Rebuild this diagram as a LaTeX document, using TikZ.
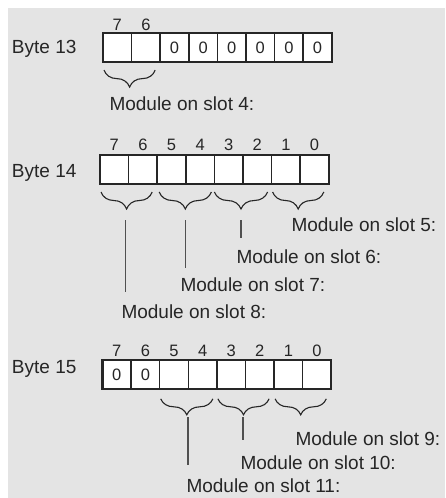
\documentclass[tikz,border=0pt]{standalone}
\usepackage{fontspec}
\setmainfont{Liberation Sans}
\usetikzlibrary{decorations.pathreplacing}

\definecolor{bg}{HTML}{E4E4E4}
\definecolor{ink}{HTML}{262626}
\definecolor{rule}{HTML}{505050}

\tikzset{
  lbl/.style={anchor=base west, inner sep=0pt, outer sep=0pt, text=ink,
    font=\fontsize{19}{22}\selectfont},
  bitnum/.style={anchor=base, inner sep=0pt, text=ink,
    font=\fontsize{16.5}{19}\selectfont},
  cell/.style={draw=ink, line width=1.5pt, fill=white, minimum width=28.6pt,
    minimum height=28.8pt, inner sep=0pt, outer sep=0pt, anchor=north west,
    text=ink, font=\fontsize{16.5}{19}\selectfont},
  frame/.style={draw=ink, line width=2.2pt},
  grp/.style={draw=ink, line width=1.1pt, decorate,
    decoration={brace, mirror, amplitude=#1}},
  grp/.default=17pt,
  lead/.style={draw=rule, line width=1.4pt},
}

% one byte: name, left x, top y, the eight cell texts (bit 7 ... bit 0)
\newcommand\bytecells[4]{%
  \foreach \t [count=\i from 0] in {#4} {
    \node[cell] (#1c\i) at ({#2+\i*28.6},#3) {\t};
  }
  \draw[frame] (#1c0.north west) rectangle (#1c7.south east);
}

\begin{document}
\begin{tikzpicture}[x=1pt,y=-1pt]
  \useasboundingbox (0,0) rectangle (445,498);
  \fill[bg] (8,8) rectangle (445,498);

  % ---------------- Byte 13 ----------------
  \node[lbl] (byte13) at (12,53.5) {Byte 13};
  \bytecells{b13}{103}{33.3}{{},{},0,0,0,0,0,0}
  \node[bitnum] (b13n7) at (b13c0.center |- 0,30) {7};
  \node[bitnum] (b13n6) at (b13c1.center |- 0,30) {6};
  \draw[grp] ([xshift=1pt,yshift=-8pt]b13c0.south west)
          -- ([xshift=-5pt,yshift=-8pt]b13c1.south east);
  \node[lbl] (slot4) at (109.5,110) {Module on slot 4:};

  % ---------------- Byte 14 ----------------
  \node[lbl] (byte14) at (12,177) {Byte 14};
  \bytecells{b14}{100}{155.2}{{},{},{},{},{},{},{},{}}
  \foreach \k [count=\i from 0] in {7,6,5,4,3,2,1,0}
    \node[bitnum] (b14n\k) at (b14c\i.center |- 0,150) {\k};
  \draw[grp] ([xshift=1pt,yshift=-8pt]b14c0.south west)
          -- ([xshift=-5pt,yshift=-8pt]b14c1.south east);
  \draw[grp] ([xshift=2pt,yshift=-8pt]b14c2.south west)
          -- ([xshift=-3pt,yshift=-8pt]b14c3.south east);
  \draw[grp] ([xshift=0pt,yshift=-8pt]b14c4.south west)
          -- ([xshift=-4pt,yshift=-8pt]b14c5.south east);
  \draw[grp] ([xshift=1pt,yshift=-8pt]b14c6.south west)
          -- ([xshift=-5pt,yshift=-8pt]b14c7.south east);

  \node[lbl] (slot5) at (291.5,231.5) {Module on slot 5:};
  \node[lbl] (slot6) at (236.5,263.5) {Module on slot 6:};
  \node[lbl] (slot7) at (180.5,291.5) {Module on slot 7:};
  \node[lbl] (slot8) at (121.5,318.5) {Module on slot 8:};

  \coordinate (l8a) at (125.5,220);  \coordinate (l8b) at (125.5,292);
  \coordinate (l7a) at (185.5,220);  \coordinate (l7b) at (185.5,268);
  \coordinate (l6a) at (241,220);    \coordinate (l6b) at (241,238);
  \draw[lead] (l8a) -- (l8b);
  \draw[lead] (l7a) -- (l7b);
  \draw[lead] (l6a) -- (l6b);

  % ---------------- Byte 15 ----------------
  \node[lbl] (byte15) at (12,373.5) {Byte 15};
  \bytecells{b15}{102.5}{360}{0,0,{},{},{},{},{},{}}
  \foreach \k [count=\i from 0] in {7,6,5,4,3,2,1,0}
    \node[bitnum] (b15n\k) at (b15c\i.center |- 0,356.5) {\k};
  \draw[grp=16pt] ([xshift=1pt,yshift=-10pt]b15c2.south west)
          -- ([xshift=-4pt,yshift=-10pt]b15c3.south east);
  \draw[grp=16pt] ([xshift=1pt,yshift=-10pt]b15c4.south west)
          -- ([xshift=-5pt,yshift=-10pt]b15c5.south east);
  \draw[grp=16pt] ([xshift=1pt,yshift=-10pt]b15c6.south west)
          -- ([xshift=-5pt,yshift=-10pt]b15c7.south east);

  \node[lbl] (slot9)  at (295.5,445)   {Module on slot 9:};
  \node[lbl] (slot10) at (240.5,469.5) {Module on slot 10:};
  \node[lbl] (slot11) at (186.5,492.5) {Module on slot 11:};

  \coordinate (l11a) at (188,417);  \coordinate (l11b) at (188,465);
  \coordinate (l10a) at (243,417);  \coordinate (l10b) at (243,440);
  \draw[lead] (l11a) -- (l11b);
  \draw[lead] (l10a) -- (l10b);
\end{tikzpicture}
\end{document}
